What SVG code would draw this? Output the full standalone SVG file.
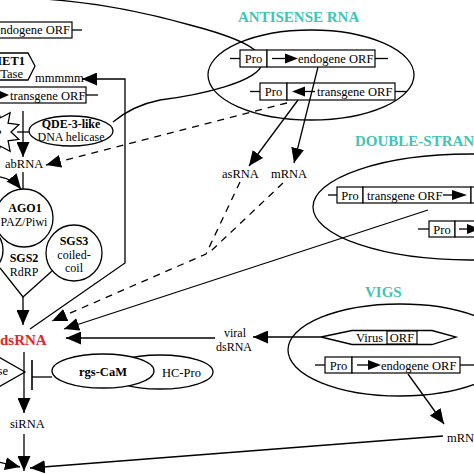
<svg xmlns="http://www.w3.org/2000/svg" width="474" height="474" viewBox="0 0 474 474">
<style>
.ln{stroke:#000;stroke-width:1.3;fill:none}
.dash{stroke-dasharray:7,6}
.sh{stroke:#000;stroke-width:1.3;fill:#fff}
.box{stroke:#000;stroke-width:1.2;fill:#fff}
.t{font-family:"Liberation Serif","Times New Roman",serif;font-size:12.5px;fill:#000}
.s{font-size:12px}
.b{font-weight:bold}
.m{text-anchor:middle}
.e{text-anchor:end}
.title{font-family:"Liberation Serif","Times New Roman",serif;font-size:15px;font-weight:bold;fill:#40c4b4}
.tri{fill:#000}
</style>
<defs>
<marker id="ah" markerUnits="userSpaceOnUse" markerWidth="16" markerHeight="13" refX="15" refY="6.5" orient="auto">
<path d="M0,0 L15,6.5 L0,13 z" fill="#000"/>
</marker>
</defs>
<rect width="474" height="474" fill="#fff"/>

<g id="top-ellipse">
<path class="ln" d="M -10,-2 C 60,-4 130,8 190,25 C 240,38 264,50 262,64 C 258,82 200,95 160,100 C 140,104 125,112 113,122"/>
</g>

<g id="endogene-top">
<rect class="box" x="-20" y="22" width="92" height="16"/>
<line class="ln" x1="72" y1="30" x2="82" y2="30"/>
<text class="t e" x="70" y="34">endogene ORF</text>
</g>

<g id="met1">
<polygon class="sh" points="-10,53 28,53 35,66 28,80 -10,80"/>
<text class="t b e" x="25" y="65">MET1</text>
<text class="t e" x="23" y="77.5">MTase</text>
</g>

<g id="methylation">
<text class="t" x="35" y="82">mmmmm</text>
</g>

<g id="transgene-top">
<rect class="box" x="-20" y="87" width="106" height="16"/>
<line class="ln" x1="86" y1="95" x2="98" y2="95"/>
<polygon class="tri" points="0,91 9,95 0,99"/>
<text class="t" x="10" y="99.5">transgene ORF</text>
</g>

<g id="starburst">
<polygon class="sh" points="-30,132 -4,108 0.6,117.7 10.1,112.6 8.1,123.2 18.8,124.6 11,132 18.8,139.4 8.1,140.8 10.1,151.4 0.6,146.3 -4,156"/>
<text class="t" x="-4" y="138">?</text>
</g>

<g id="qde3">
<ellipse class="sh" cx="71" cy="131" rx="42" ry="15"/>
<text class="t s b m" x="71" y="127.5">QDE-3-like</text>
<text class="t s m" x="71" y="141">DNA helicase</text>
</g>

<g id="abrna">
<text class="t" x="5" y="168">abRNA</text>
</g>

<g id="ago1">
<circle class="sh" cx="24" cy="218" r="29"/>
<text class="t s b m" x="25" y="212">AGO1</text>
<text class="t s m" x="24" y="225.5">PAZ/Piwi</text>
</g>

<g id="left-circle">
<circle class="sh" cx="-22" cy="250" r="25"/>
</g>

<g id="sgs2">
<polyline class="ln" points="0,268 23,297 52,271"/>
<text class="t s b m" x="24" y="262">SGS2</text>
<text class="t s m" x="24" y="276">RdRP</text>
</g>

<g id="sgs3">
<circle class="sh" cx="74" cy="253" r="28"/>
<text class="t s b m" x="74" y="245">SGS3</text>
<text class="t s m" x="74" y="259">coiled-</text>
<text class="t s m" x="74" y="272">coil</text>
</g>

<g id="dsrna">
<text class="t b" x="0" y="345" style="font-size:15px;fill:#e3242b">dsRNA</text>
</g>

<g id="rnase">
<polyline class="ln" points="-5,355 25,372 -5,389"/>
<text class="t e" x="8" y="375">RNase</text>
</g>

<g id="hc-pro">
<ellipse class="sh" cx="160" cy="372" rx="53" ry="17"/>
<text class="t" x="162" y="377">HC-Pro</text>
</g>

<g id="rgs-cam">
<ellipse class="sh" cx="103" cy="371" rx="51" ry="17"/>
<text class="t b m" x="103" y="376">rgs-CaM</text>
</g>

<g id="sirna">
<text class="t" x="10" y="428">siRNA</text>
</g>

<g id="antisense">
<text class="title" x="238" y="22">ANTISENSE RNA</text>
<ellipse class="ln" cx="311" cy="75" rx="103" ry="45"/>
<line class="ln" x1="230" y1="58.5" x2="240" y2="58.5"/>
<rect class="box" x="240" y="50" width="27" height="17"/>
<rect class="box" x="267" y="50" width="108" height="17"/>
<line class="ln" x1="375" y1="58.5" x2="388" y2="58.5"/>
<text class="t m" x="253.5" y="63">Pro</text>
<line class="ln" x1="272" y1="58.5" x2="286" y2="58.5"/>
<polygon class="tri" points="285,53.5 298,58.5 285,63.5"/>
<text class="t" x="298" y="63">endogene ORF</text>
<line class="ln" x1="250" y1="91.5" x2="260" y2="91.5"/>
<rect class="box" x="260" y="83" width="27" height="17"/>
<rect class="box" x="287" y="83" width="108" height="17"/>
<line class="ln" x1="395" y1="91.5" x2="407" y2="91.5"/>
<text class="t m" x="273.5" y="96">Pro</text>
<polygon class="tri" points="292,91.5 305,86.5 305,96.5"/>
<line class="ln" x1="304" y1="91.5" x2="315" y2="91.5"/>
<text class="t" x="317" y="96">transgene ORF</text>
</g>

<g id="asrna">
<text class="t" x="222" y="178">asRNA</text>
</g>

<g id="mrna">
<text class="t" x="271" y="178">mRNA</text>
</g>

<g id="double-stranded">
<text class="title" x="355" y="146">DOUBLE-STRANDED RNA</text>
<ellipse class="ln" cx="470" cy="207" rx="157" ry="53"/>
<line class="ln" x1="328" y1="195" x2="337" y2="195"/>
<rect class="box" x="337" y="187" width="26" height="16"/>
<rect class="box" x="363" y="187" width="108" height="16"/>
<rect class="box" x="471" y="187" width="30" height="16"/>
<text class="t m" x="350" y="199.5">Pro</text>
<text class="t" x="367" y="199.5">transgene ORF</text>
<line class="ln" x1="443" y1="195" x2="453" y2="195"/>
<polygon class="tri" points="452,190 467,195 452,200"/>
<line class="ln" x1="418" y1="229" x2="429" y2="229"/>
<rect class="box" x="429" y="221" width="26" height="16"/>
<rect class="box" x="455" y="221" width="40" height="16"/>
<text class="t m" x="442" y="233.5">Pro</text>
<line class="ln" x1="459" y1="229" x2="468" y2="229"/>
<polygon class="tri" points="467,224 480,229 467,234"/>
</g>

<g id="vigs">
<text class="title" x="365" y="297">VIGS</text>
<ellipse class="ln" cx="400" cy="350" rx="112" ry="46"/>
<polygon class="sh" points="321,337 352,330.5 432,330.5 456,337 432,344.5 352,344.5"/>
<text class="t" x="356" y="342">Virus</text>
<rect class="box" x="387" y="331" width="30" height="13"/>
<text class="t m" x="402" y="342">ORF</text>
<line class="ln" x1="315" y1="365" x2="325" y2="365"/>
<rect class="box" x="325" y="357" width="27" height="16"/>
<rect class="box" x="352" y="357" width="108" height="16"/>
<line class="ln" x1="460" y1="365" x2="476" y2="365"/>
<text class="t m" x="338.5" y="369.5">Pro</text>
<line class="ln" x1="357" y1="365" x2="369" y2="365"/>
<polygon class="tri" points="368,360 381,365 368,370"/>
<text class="t" x="381" y="369.5">endogene ORF</text>
</g>

<g id="viral-dsrna">
<text class="t s m" x="235" y="337">viral</text>
<text class="t s m" x="234" y="351">dsRNA</text>
</g>

<g id="mrna-vigs">
<text class="t" x="447" y="442">mRNA</text>
</g>

<g id="connectors">
<path class="ln" d="M 30,329 L 125,263 L 125,79 L 82,79" marker-end="url(#ah)"/>
<line class="ln" x1="23" y1="111" x2="23" y2="157" marker-end="url(#ah)"/>
<line class="ln" x1="17" y1="132" x2="29" y2="132"/>
<line class="ln dash" x1="287" y1="103" x2="46" y2="165" marker-end="url(#ah)"/>
<line class="ln" x1="23" y1="172" x2="23" y2="189"/>
<path class="ln" d="M -5,176 Q 12,178 21,189" marker-end="url(#ah)"/>
<line class="ln" x1="23" y1="297" x2="23" y2="325" marker-end="url(#ah)"/>
<line class="ln" x1="318" y1="67" x2="294" y2="163" marker-end="url(#ah)"/>
<line class="ln" x1="298" y1="100" x2="249" y2="166" marker-end="url(#ah)"/>
<path class="ln dash" d="M 240,182 L 206,254 L 52,321" marker-end="url(#ah)"/>
<line class="ln dash" x1="283" y1="183" x2="210" y2="252"/>
<line class="ln" x1="428" y1="210" x2="64" y2="329" marker-end="url(#ah)"/>
<line class="ln" x1="321" y1="337" x2="253" y2="337" marker-end="url(#ah)"/>
<line class="ln" x1="215" y1="338" x2="66" y2="338" marker-end="url(#ah)"/>
<line class="ln" x1="24" y1="352" x2="24" y2="413" marker-end="url(#ah)"/>
<line class="ln" x1="52" y1="377" x2="32" y2="377"/>
<line class="ln" x1="32" y1="360" x2="32" y2="390" style="stroke-width:1.6"/>
<line class="ln" x1="24" y1="434" x2="24" y2="471" marker-end="url(#ah)"/>
<line class="ln" x1="-2" y1="462" x2="20" y2="467" marker-end="url(#ah)"/>
<line class="ln" x1="443" y1="436" x2="30" y2="468" marker-end="url(#ah)"/>
<line class="ln" x1="408" y1="374" x2="444" y2="424" marker-end="url(#ah)"/>
</g>
</svg>
